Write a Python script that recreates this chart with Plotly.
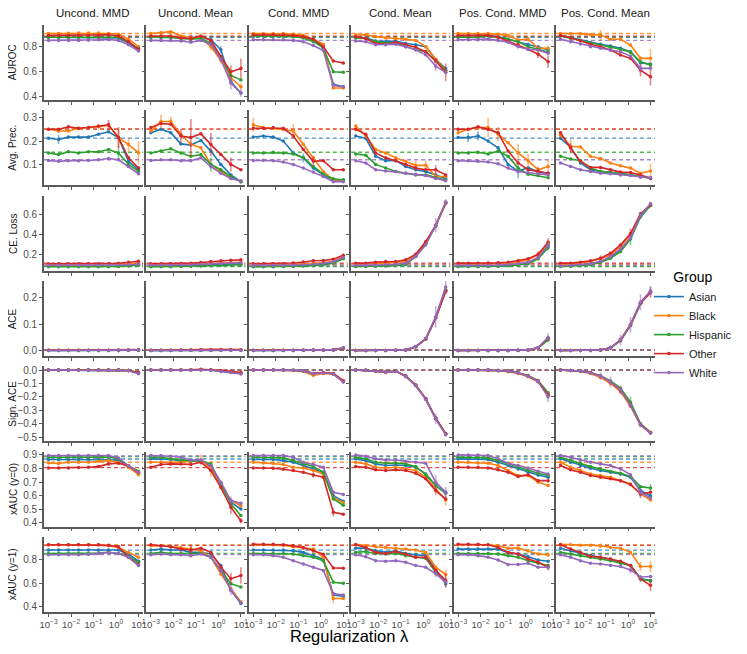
import plotly.graph_objects as go
from plotly.subplots import make_subplots

# regularization strengths (x axis)
lam = [0.001, 0.0028, 0.0077, 0.0215, 0.0599, 0.1668, 0.4642, 1.2915, 3.5938, 10.0]

groups = ["Asian", "Black", "Hispanic", "Other", "White"]
colors = ["#1f77b4", "#ff7f0e", "#2ca02c", "#d62728", "#9467bd"]
methods = ["Uncond. MMD", "Uncond. Mean", "Cond. MMD", "Cond. Mean", "Pos. Cond. MMD", "Pos. Cond. Mean"]
metrics = ["AUROC", "Avg. Prec.", "CE. Loss", "ACE", "Sign. ACE", "xAUC (y=0)", "xAUC (y=1)"]
x_ticks = [0.001, 0.01, 0.1, 1, 10]
x_tick_text = ["10<sup>−3</sup>", "10<sup>−2</sup>", "10<sup>−1</sup>", "10<sup>0</sup>", "10<sup>1</sup>"]

# unregularized baselines (dashed lines), order: Asian, Black, Hispanic, Other, White
base_auroc = [0.875, 0.905, 0.88, 0.885, 0.85]
base_ap = [0.213, 0.25, 0.152, 0.252, 0.12]
base_ce = [0.08, 0.095, 0.075, 0.11, 0.09]
base_ace = [0.002, 0.002, 0.002, 0.002, 0.002]
base_sace = [0.0, 0.0, 0.0, 0.0, 0.0]
base_x0 = [0.87, 0.846, 0.888, 0.806, 0.893]
base_x1 = [0.885, 0.93, 0.856, 0.925, 0.845]

# ---------------- AUROC ----------------
auroc_uncond_mmd = {
    "Asian": [0.875, 0.875, 0.875, 0.875, 0.875, 0.875, 0.875, 0.87, 0.83, 0.775],
    "Black": [0.905, 0.905, 0.908, 0.91, 0.91, 0.91, 0.905, 0.9, 0.86, 0.8],
    "Hispanic": [0.875, 0.875, 0.875, 0.875, 0.875, 0.875, 0.88, 0.875, 0.835, 0.785],
    "Other": [0.89, 0.89, 0.89, 0.89, 0.89, 0.89, 0.895, 0.885, 0.84, 0.78],
    "White": [0.85, 0.85, 0.85, 0.85, 0.852, 0.855, 0.858, 0.85, 0.815, 0.765],
}
auroc_uncond_mean = {
    "Asian": [0.875, 0.875, 0.875, 0.875, 0.87, 0.88, 0.855, 0.775, 0.52, 0.43],
    "Black": [0.905, 0.912, 0.92, 0.885, 0.87, 0.87, 0.8, 0.69, 0.55, 0.48],
    "Hispanic": [0.875, 0.875, 0.875, 0.865, 0.86, 0.865, 0.83, 0.72, 0.57, 0.535],
    "Other": [0.885, 0.885, 0.885, 0.87, 0.865, 0.885, 0.85, 0.72, 0.6, 0.625],
    "White": [0.85, 0.85, 0.85, 0.845, 0.835, 0.85, 0.82, 0.7, 0.51, 0.43],
}
auroc_cond_mmd = {
    "Asian": [0.885, 0.885, 0.885, 0.885, 0.885, 0.875, 0.855, 0.79, 0.5, 0.48],
    "Black": [0.905, 0.905, 0.905, 0.905, 0.9, 0.89, 0.86, 0.82, 0.47, 0.47],
    "Hispanic": [0.885, 0.885, 0.885, 0.885, 0.88, 0.87, 0.84, 0.79, 0.6, 0.595],
    "Other": [0.895, 0.895, 0.895, 0.895, 0.89, 0.88, 0.86, 0.8, 0.685, 0.67],
    "White": [0.855, 0.855, 0.855, 0.855, 0.85, 0.84, 0.81, 0.77, 0.49, 0.48],
}
auroc_cond_mean = {
    "Asian": [0.875, 0.87, 0.845, 0.84, 0.845, 0.825, 0.815, 0.8, 0.7, 0.625],
    "Black": [0.895, 0.895, 0.88, 0.87, 0.865, 0.86, 0.85, 0.8, 0.7, 0.61],
    "Hispanic": [0.87, 0.865, 0.84, 0.83, 0.83, 0.8, 0.775, 0.76, 0.685, 0.61],
    "Other": [0.88, 0.865, 0.825, 0.82, 0.835, 0.815, 0.795, 0.76, 0.685, 0.595],
    "White": [0.845, 0.84, 0.815, 0.815, 0.82, 0.8, 0.775, 0.735, 0.645, 0.595],
}
auroc_pos_cond_mmd = {
    "Asian": [0.885, 0.885, 0.885, 0.89, 0.88, 0.86, 0.84, 0.82, 0.8, 0.775],
    "Black": [0.905, 0.905, 0.905, 0.905, 0.9, 0.89, 0.853, 0.86, 0.787, 0.787],
    "Hispanic": [0.875, 0.875, 0.875, 0.885, 0.875, 0.86, 0.84, 0.8, 0.78, 0.757],
    "Other": [0.89, 0.89, 0.89, 0.89, 0.875, 0.845, 0.815, 0.78, 0.74, 0.68],
    "White": [0.855, 0.855, 0.855, 0.86, 0.85, 0.835, 0.8, 0.78, 0.773, 0.747],
}
auroc_pos_cond_mean = {
    "Asian": [0.89, 0.872, 0.851, 0.832, 0.819, 0.805, 0.787, 0.76, 0.672, 0.661],
    "Black": [0.905, 0.904, 0.904, 0.896, 0.893, 0.859, 0.859, 0.813, 0.707, 0.707],
    "Hispanic": [0.885, 0.867, 0.848, 0.827, 0.808, 0.795, 0.779, 0.755, 0.68, 0.653],
    "Other": [0.89, 0.872, 0.848, 0.819, 0.8, 0.773, 0.733, 0.707, 0.613, 0.56],
    "White": [0.859, 0.84, 0.821, 0.8, 0.787, 0.773, 0.76, 0.725, 0.627, 0.627],
}

# ---------------- Average precision ----------------
ap_uncond_mmd = {
    "Asian": [0.212, 0.207, 0.217, 0.217, 0.217, 0.229, 0.24, 0.215, 0.113, 0.077],
    "Black": [0.251, 0.243, 0.243, 0.255, 0.258, 0.261, 0.268, 0.215, 0.185, 0.15],
    "Hispanic": [0.149, 0.142, 0.154, 0.149, 0.154, 0.154, 0.164, 0.149, 0.1, 0.07],
    "Other": [0.251, 0.251, 0.261, 0.255, 0.258, 0.265, 0.27, 0.215, 0.128, 0.084],
    "White": [0.117, 0.113, 0.116, 0.116, 0.117, 0.12, 0.125, 0.12, 0.091, 0.06],
}
ap_uncond_mean = {
    "Asian": [0.236, 0.251, 0.236, 0.188, 0.183, 0.203, 0.157, 0.1, 0.055, 0.026],
    "Black": [0.243, 0.284, 0.284, 0.229, 0.186, 0.171, 0.1, 0.07, 0.04, 0.029],
    "Hispanic": [0.149, 0.157, 0.167, 0.149, 0.135, 0.142, 0.1, 0.077, 0.048, 0.026],
    "Other": [0.258, 0.275, 0.272, 0.222, 0.215, 0.232, 0.185, 0.142, 0.1, 0.077],
    "White": [0.117, 0.12, 0.12, 0.116, 0.116, 0.128, 0.091, 0.062, 0.04, 0.029],
}
ap_cond_mmd = {
    "Asian": [0.217, 0.222, 0.217, 0.2, 0.149, 0.128, 0.084, 0.055, 0.033, 0.033],
    "Black": [0.27, 0.258, 0.255, 0.25, 0.243, 0.186, 0.128, 0.07, 0.033, 0.029],
    "Hispanic": [0.149, 0.149, 0.152, 0.149, 0.145, 0.13, 0.091, 0.058, 0.038, 0.033],
    "Other": [0.255, 0.255, 0.258, 0.255, 0.222, 0.164, 0.113, 0.116, 0.077, 0.077],
    "White": [0.117, 0.118, 0.116, 0.11, 0.1, 0.084, 0.067, 0.048, 0.026, 0.026],
}
ap_cond_mean = {
    "Asian": [0.222, 0.212, 0.135, 0.116, 0.116, 0.091, 0.077, 0.07, 0.055, 0.04],
    "Black": [0.265, 0.222, 0.164, 0.149, 0.128, 0.113, 0.096, 0.096, 0.048, 0.048],
    "Hispanic": [0.145, 0.139, 0.1, 0.084, 0.07, 0.062, 0.055, 0.055, 0.043, 0.033],
    "Other": [0.251, 0.229, 0.149, 0.128, 0.116, 0.1, 0.084, 0.077, 0.077, 0.055],
    "White": [0.116, 0.106, 0.077, 0.072, 0.07, 0.062, 0.058, 0.052, 0.04, 0.03],
}
ap_pos_cond_mmd = {
    "Asian": [0.215, 0.215, 0.222, 0.2, 0.171, 0.1, 0.071, 0.086, 0.068, 0.062],
    "Black": [0.236, 0.251, 0.258, 0.258, 0.23, 0.193, 0.149, 0.116, 0.077, 0.091],
    "Hispanic": [0.149, 0.149, 0.152, 0.145, 0.157, 0.135, 0.084, 0.058, 0.052, 0.043],
    "Other": [0.251, 0.251, 0.261, 0.251, 0.236, 0.157, 0.106, 0.077, 0.07, 0.062],
    "White": [0.116, 0.116, 0.113, 0.11, 0.103, 0.084, 0.07, 0.064, 0.06, 0.055],
}
ap_pos_cond_mean = {
    "Asian": [0.212, 0.174, 0.106, 0.077, 0.07, 0.066, 0.062, 0.055, 0.048, 0.043],
    "Black": [0.225, 0.178, 0.175, 0.135, 0.125, 0.106, 0.094, 0.084, 0.062, 0.072],
    "Hispanic": [0.135, 0.123, 0.116, 0.084, 0.07, 0.066, 0.06, 0.055, 0.048, 0.04],
    "Other": [0.236, 0.171, 0.113, 0.087, 0.087, 0.077, 0.067, 0.065, 0.055, 0.04],
    "White": [0.106, 0.091, 0.077, 0.07, 0.062, 0.06, 0.055, 0.052, 0.045, 0.043],
}

# ---------------- Cross-entropy loss ----------------
ce_uncond_mmd = {
    "Asian": [0.08, 0.08, 0.08, 0.08, 0.08, 0.08, 0.08, 0.082, 0.088, 0.095],
    "Black": [0.095, 0.095, 0.095, 0.095, 0.095, 0.095, 0.097, 0.1, 0.105, 0.11],
    "Hispanic": [0.075, 0.075, 0.075, 0.075, 0.075, 0.075, 0.075, 0.078, 0.083, 0.09],
    "Other": [0.105, 0.105, 0.105, 0.105, 0.105, 0.105, 0.106, 0.11, 0.12, 0.13],
    "White": [0.09, 0.09, 0.09, 0.09, 0.09, 0.09, 0.09, 0.092, 0.095, 0.1],
}
ce_uncond_mean = {
    "Asian": [0.08, 0.08, 0.08, 0.082, 0.085, 0.088, 0.092, 0.097, 0.1, 0.105],
    "Black": [0.095, 0.095, 0.095, 0.097, 0.1, 0.104, 0.108, 0.113, 0.117, 0.12],
    "Hispanic": [0.075, 0.075, 0.075, 0.077, 0.079, 0.082, 0.085, 0.089, 0.092, 0.095],
    "Other": [0.104, 0.104, 0.104, 0.107, 0.111, 0.117, 0.127, 0.134, 0.14, 0.144],
    "White": [0.09, 0.09, 0.09, 0.092, 0.095, 0.099, 0.103, 0.108, 0.112, 0.115],
}
ce_cond_mmd = {
    "Asian": [0.078, 0.078, 0.078, 0.079, 0.08, 0.085, 0.09, 0.097, 0.115, 0.16],
    "Black": [0.095, 0.095, 0.095, 0.096, 0.098, 0.103, 0.11, 0.115, 0.13, 0.175],
    "Hispanic": [0.075, 0.075, 0.075, 0.076, 0.078, 0.082, 0.087, 0.094, 0.11, 0.155],
    "Other": [0.105, 0.105, 0.105, 0.105, 0.112, 0.122, 0.135, 0.138, 0.151, 0.19],
    "White": [0.088, 0.088, 0.088, 0.089, 0.09, 0.095, 0.1, 0.108, 0.125, 0.168],
}
ce_cond_mean = {
    "Asian": [0.08, 0.08, 0.082, 0.085, 0.09, 0.1, 0.177, 0.309, 0.484, 0.716],
    "Black": [0.101, 0.101, 0.104, 0.11, 0.117, 0.127, 0.193, 0.32, 0.49, 0.706],
    "Hispanic": [0.078, 0.078, 0.08, 0.083, 0.088, 0.1, 0.177, 0.309, 0.484, 0.716],
    "Other": [0.111, 0.111, 0.121, 0.127, 0.127, 0.144, 0.2, 0.326, 0.49, 0.722],
    "White": [0.088, 0.088, 0.09, 0.095, 0.1, 0.111, 0.177, 0.293, 0.49, 0.722],
}
ce_pos_cond_mmd = {
    "Asian": [0.078, 0.078, 0.078, 0.079, 0.081, 0.086, 0.095, 0.11, 0.16, 0.286],
    "Black": [0.101, 0.101, 0.101, 0.102, 0.104, 0.11, 0.121, 0.144, 0.193, 0.3],
    "Hispanic": [0.078, 0.078, 0.078, 0.078, 0.08, 0.084, 0.092, 0.104, 0.154, 0.266],
    "Other": [0.111, 0.111, 0.111, 0.112, 0.114, 0.12, 0.134, 0.154, 0.2, 0.32],
    "White": [0.088, 0.088, 0.088, 0.089, 0.091, 0.096, 0.104, 0.121, 0.167, 0.29],
}
ce_pos_cond_mean = {
    "Asian": [0.084, 0.088, 0.094, 0.104, 0.127, 0.167, 0.243, 0.359, 0.58, 0.689],
    "Black": [0.094, 0.101, 0.111, 0.127, 0.154, 0.193, 0.276, 0.392, 0.59, 0.689],
    "Hispanic": [0.078, 0.078, 0.084, 0.094, 0.117, 0.16, 0.226, 0.352, 0.574, 0.689],
    "Other": [0.111, 0.111, 0.121, 0.134, 0.16, 0.21, 0.293, 0.408, 0.607, 0.696],
    "White": [0.084, 0.088, 0.094, 0.104, 0.127, 0.177, 0.25, 0.365, 0.59, 0.706],
}

# ---------------- ACE ----------------
ace_uncond_mmd = {
    "Asian": [0.001, 0.001, 0.001, 0.001, 0.001, 0.001, 0.001, 0.001, 0.002, 0.002],
    "Black": [0.002, 0.002, 0.002, 0.002, 0.002, 0.002, 0.002, 0.002, 0.002, 0.003],
    "Hispanic": [0.001, 0.001, 0.001, 0.001, 0.001, 0.001, 0.001, 0.001, 0.002, 0.002],
    "Other": [0.002, 0.002, 0.002, 0.002, 0.002, 0.002, 0.002, 0.003, 0.003, 0.004],
    "White": [0.001, 0.001, 0.001, 0.001, 0.001, 0.001, 0.001, 0.001, 0.002, 0.003],
}
ace_uncond_mean = {
    "Asian": [0.001, 0.001, 0.001, 0.002, 0.002, 0.002, 0.002, 0.002, 0.002, 0.002],
    "Black": [0.002, 0.002, 0.002, 0.002, 0.003, 0.003, 0.003, 0.003, 0.003, 0.003],
    "Hispanic": [0.001, 0.001, 0.001, 0.002, 0.002, 0.002, 0.002, 0.002, 0.002, 0.002],
    "Other": [0.002, 0.002, 0.002, 0.003, 0.003, 0.004, 0.005, 0.005, 0.004, 0.004],
    "White": [0.001, 0.001, 0.001, 0.002, 0.002, 0.002, 0.002, 0.002, 0.002, 0.002],
}
ace_cond_mmd = {
    "Asian": [0.001, 0.001, 0.001, 0.001, 0.001, 0.002, 0.002, 0.002, 0.003, 0.009],
    "Black": [0.002, 0.002, 0.002, 0.002, 0.002, 0.002, 0.002, 0.002, 0.003, 0.01],
    "Hispanic": [0.001, 0.001, 0.001, 0.001, 0.001, 0.002, 0.002, 0.002, 0.003, 0.009],
    "Other": [0.002, 0.002, 0.002, 0.002, 0.002, 0.002, 0.003, 0.003, 0.004, 0.01],
    "White": [0.001, 0.001, 0.001, 0.001, 0.001, 0.002, 0.002, 0.002, 0.003, 0.012],
}
ace_cond_mean = {
    "Asian": [0.001, 0.001, 0.001, 0.001, 0.002, 0.003, 0.015, 0.044, 0.125, 0.228],
    "Black": [0.001, 0.001, 0.001, 0.001, 0.002, 0.003, 0.015, 0.044, 0.125, 0.23],
    "Hispanic": [0.001, 0.001, 0.001, 0.001, 0.002, 0.003, 0.015, 0.044, 0.125, 0.228],
    "Other": [0.001, 0.001, 0.001, 0.001, 0.002, 0.003, 0.015, 0.044, 0.123, 0.223],
    "White": [0.001, 0.001, 0.001, 0.001, 0.002, 0.003, 0.016, 0.046, 0.128, 0.24],
}
ace_pos_cond_mmd = {
    "Asian": [0.001, 0.001, 0.001, 0.001, 0.001, 0.001, 0.001, 0.003, 0.011, 0.047],
    "Black": [0.001, 0.001, 0.001, 0.001, 0.001, 0.001, 0.002, 0.003, 0.011, 0.046],
    "Hispanic": [0.001, 0.001, 0.001, 0.001, 0.001, 0.001, 0.001, 0.003, 0.01, 0.04],
    "Other": [0.001, 0.001, 0.001, 0.001, 0.001, 0.001, 0.002, 0.003, 0.011, 0.047],
    "White": [0.001, 0.001, 0.001, 0.001, 0.001, 0.001, 0.002, 0.003, 0.012, 0.05],
}
ace_pos_cond_mean = {
    "Asian": [0.001, 0.001, 0.001, 0.001, 0.003, 0.011, 0.04, 0.097, 0.179, 0.223],
    "Black": [0.001, 0.001, 0.001, 0.001, 0.003, 0.011, 0.042, 0.1, 0.18, 0.222],
    "Hispanic": [0.001, 0.001, 0.001, 0.001, 0.003, 0.01, 0.038, 0.095, 0.178, 0.223],
    "Other": [0.001, 0.001, 0.001, 0.001, 0.003, 0.011, 0.04, 0.097, 0.179, 0.22],
    "White": [0.001, 0.001, 0.001, 0.001, 0.003, 0.011, 0.041, 0.098, 0.183, 0.225],
}

# ---------------- Signed ACE ----------------
sace_uncond_mmd = {
    "Asian": [0.0, 0.0, 0.0, 0.0, 0.0, 0.0, 0.0, 0.0, -0.004, -0.022],
    "Black": [0.0, 0.0, 0.0, 0.0, 0.0, 0.0, 0.0, 0.0, -0.003, -0.018],
    "Hispanic": [0.0, 0.0, 0.0, 0.0, 0.0, 0.0, 0.0, 0.0, -0.004, -0.02],
    "Other": [0.0, 0.0, 0.0, 0.0, 0.0, 0.0, 0.001, 0.001, -0.003, -0.02],
    "White": [0.0, 0.0, 0.0, 0.0, 0.0, 0.0, 0.0, 0.0, -0.005, -0.028],
}
sace_uncond_mean = {
    "Asian": [0.0, 0.0, 0.0, 0.0, 0.0, 0.002, 0.0, -0.008, -0.015, -0.025],
    "Black": [0.0, 0.0, 0.0, 0.0, 0.0, 0.003, 0.0, -0.006, -0.012, -0.02],
    "Hispanic": [0.0, 0.0, 0.0, 0.0, 0.0, 0.002, 0.0, -0.007, -0.014, -0.024],
    "Other": [0.0, 0.0, 0.0, 0.0, 0.002, 0.006, 0.002, -0.004, -0.01, -0.02],
    "White": [0.0, 0.0, -0.002, -0.002, 0.0, 0.001, -0.002, -0.01, -0.018, -0.03],
}
sace_cond_mmd = {
    "Asian": [0.0, 0.0, 0.0, 0.0, -0.002, -0.006, -0.025, -0.02, -0.028, -0.085],
    "Black": [0.0, 0.0, 0.0, -0.001, -0.003, -0.01, -0.04, -0.025, -0.03, -0.085],
    "Hispanic": [0.0, 0.0, 0.0, 0.0, -0.002, -0.006, -0.025, -0.02, -0.027, -0.082],
    "Other": [0.0, 0.0, 0.0, 0.0, -0.002, -0.005, -0.025, -0.018, -0.025, -0.08],
    "White": [0.0, 0.0, 0.0, 0.0, -0.002, -0.006, -0.027, -0.022, -0.03, -0.09],
}
sace_cond_mean = {
    "Asian": [0.0, -0.002, -0.008, -0.015, -0.008, -0.045, -0.114, -0.215, -0.36, -0.478],
    "Black": [0.0, -0.003, -0.01, -0.018, -0.01, -0.048, -0.118, -0.22, -0.362, -0.48],
    "Hispanic": [0.0, -0.002, -0.008, -0.015, -0.008, -0.045, -0.114, -0.215, -0.358, -0.476],
    "Other": [0.0, -0.002, -0.008, -0.015, -0.008, -0.045, -0.112, -0.212, -0.36, -0.475],
    "White": [0.0, -0.002, -0.009, -0.016, -0.009, -0.047, -0.116, -0.218, -0.365, -0.482],
}
sace_pos_cond_mmd = {
    "Asian": [0.0, 0.0, 0.0, 0.0, -0.003, -0.008, -0.02, -0.045, -0.083, -0.185],
    "Black": [0.0, 0.0, 0.0, -0.001, -0.005, -0.012, -0.025, -0.05, -0.088, -0.19],
    "Hispanic": [0.0, 0.0, 0.0, 0.0, -0.003, -0.008, -0.02, -0.043, -0.078, -0.17],
    "Other": [0.0, 0.0, 0.0, 0.0, -0.003, -0.008, -0.02, -0.045, -0.083, -0.185],
    "White": [0.0, 0.0, 0.0, 0.0, -0.003, -0.009, -0.021, -0.046, -0.086, -0.2],
}
sace_pos_cond_mean = {
    "Asian": [0.0, -0.003, -0.008, -0.02, -0.045, -0.088, -0.146, -0.26, -0.407, -0.467],
    "Black": [0.0, -0.004, -0.011, -0.026, -0.055, -0.1, -0.16, -0.27, -0.41, -0.47],
    "Hispanic": [0.0, -0.003, -0.008, -0.019, -0.042, -0.082, -0.135, -0.24, -0.4, -0.465],
    "Other": [0.0, -0.003, -0.008, -0.02, -0.045, -0.09, -0.15, -0.262, -0.408, -0.468],
    "White": [0.0, -0.003, -0.008, -0.02, -0.046, -0.088, -0.146, -0.262, -0.41, -0.47],
}

# ---------------- xAUC (y=0) ----------------
x0_uncond_mmd = {
    "Asian": [0.866, 0.866, 0.866, 0.866, 0.866, 0.866, 0.864, 0.86, 0.81, 0.765],
    "Black": [0.84, 0.837, 0.846, 0.846, 0.846, 0.853, 0.858, 0.846, 0.81, 0.755],
    "Hispanic": [0.883, 0.883, 0.883, 0.883, 0.883, 0.883, 0.885, 0.871, 0.82, 0.78],
    "Other": [0.804, 0.804, 0.804, 0.807, 0.809, 0.814, 0.834, 0.839, 0.82, 0.77],
    "White": [0.895, 0.895, 0.895, 0.895, 0.895, 0.895, 0.895, 0.878, 0.82, 0.773],
}
x0_uncond_mean = {
    "Asian": [0.871, 0.871, 0.866, 0.858, 0.853, 0.858, 0.81, 0.693, 0.552, 0.503],
    "Black": [0.846, 0.846, 0.846, 0.846, 0.853, 0.863, 0.797, 0.675, 0.565, 0.527],
    "Hispanic": [0.883, 0.883, 0.871, 0.863, 0.858, 0.858, 0.834, 0.687, 0.54, 0.455],
    "Other": [0.81, 0.83, 0.834, 0.834, 0.83, 0.846, 0.785, 0.66, 0.515, 0.417],
    "White": [0.895, 0.895, 0.89, 0.883, 0.863, 0.863, 0.82, 0.7, 0.565, 0.545],
}
x0_cond_mmd = {
    "Asian": [0.866, 0.866, 0.866, 0.858, 0.846, 0.822, 0.797, 0.773, 0.6, 0.56],
    "Black": [0.846, 0.841, 0.839, 0.829, 0.809, 0.804, 0.785, 0.76, 0.584, 0.55],
    "Hispanic": [0.883, 0.883, 0.883, 0.878, 0.858, 0.834, 0.814, 0.773, 0.576, 0.53],
    "Other": [0.804, 0.804, 0.802, 0.795, 0.785, 0.773, 0.753, 0.736, 0.478, 0.465],
    "White": [0.895, 0.895, 0.895, 0.895, 0.883, 0.846, 0.829, 0.81, 0.625, 0.61],
}
x0_cond_mean = {
    "Asian": [0.871, 0.858, 0.834, 0.822, 0.826, 0.822, 0.81, 0.76, 0.675, 0.618],
    "Black": [0.846, 0.834, 0.809, 0.804, 0.809, 0.797, 0.785, 0.736, 0.65, 0.569],
    "Hispanic": [0.883, 0.871, 0.846, 0.839, 0.841, 0.834, 0.814, 0.755, 0.675, 0.625],
    "Other": [0.814, 0.809, 0.79, 0.785, 0.79, 0.785, 0.765, 0.724, 0.638, 0.576],
    "White": [0.9, 0.89, 0.871, 0.863, 0.863, 0.853, 0.846, 0.839, 0.7, 0.625],
}
x0_pos_cond_mmd = {
    "Asian": [0.871, 0.871, 0.871, 0.866, 0.846, 0.822, 0.797, 0.773, 0.753, 0.736],
    "Black": [0.846, 0.846, 0.841, 0.839, 0.822, 0.785, 0.748, 0.748, 0.7, 0.675],
    "Hispanic": [0.883, 0.883, 0.883, 0.878, 0.858, 0.834, 0.809, 0.785, 0.765, 0.748],
    "Other": [0.809, 0.809, 0.809, 0.804, 0.79, 0.773, 0.741, 0.755, 0.711, 0.711],
    "White": [0.9, 0.9, 0.9, 0.895, 0.871, 0.839, 0.822, 0.804, 0.78, 0.76],
}
x0_pos_cond_mean = {
    "Asian": [0.871, 0.846, 0.822, 0.802, 0.785, 0.773, 0.76, 0.736, 0.638, 0.6],
    "Black": [0.846, 0.809, 0.785, 0.76, 0.748, 0.736, 0.711, 0.687, 0.613, 0.569],
    "Hispanic": [0.883, 0.858, 0.839, 0.814, 0.797, 0.78, 0.765, 0.741, 0.667, 0.657],
    "Other": [0.822, 0.79, 0.773, 0.748, 0.736, 0.724, 0.711, 0.682, 0.613, 0.625],
    "White": [0.895, 0.883, 0.863, 0.846, 0.834, 0.822, 0.797, 0.755, 0.625, 0.584],
}

# ---------------- xAUC (y=1) ----------------
x1_uncond_mmd = {
    "Asian": [0.885, 0.885, 0.885, 0.885, 0.885, 0.885, 0.885, 0.885, 0.851, 0.789],
    "Black": [0.93, 0.93, 0.93, 0.93, 0.93, 0.93, 0.921, 0.907, 0.865, 0.823],
    "Hispanic": [0.856, 0.856, 0.856, 0.856, 0.856, 0.86, 0.865, 0.856, 0.828, 0.78],
    "Other": [0.93, 0.93, 0.93, 0.93, 0.93, 0.93, 0.925, 0.913, 0.823, 0.76],
    "White": [0.845, 0.845, 0.845, 0.845, 0.848, 0.855, 0.865, 0.856, 0.823, 0.752],
}
x1_uncond_mean = {
    "Asian": [0.885, 0.893, 0.885, 0.885, 0.865, 0.865, 0.851, 0.752, 0.541, 0.428],
    "Black": [0.921, 0.921, 0.913, 0.907, 0.893, 0.879, 0.823, 0.68, 0.555, 0.442],
    "Hispanic": [0.856, 0.865, 0.856, 0.856, 0.851, 0.856, 0.823, 0.71, 0.597, 0.569],
    "Other": [0.93, 0.921, 0.913, 0.893, 0.885, 0.901, 0.865, 0.738, 0.64, 0.667],
    "White": [0.845, 0.851, 0.845, 0.845, 0.837, 0.851, 0.823, 0.71, 0.541, 0.434],
}
x1_cond_mmd = {
    "Asian": [0.885, 0.885, 0.885, 0.885, 0.879, 0.865, 0.837, 0.808, 0.5, 0.49],
    "Black": [0.93, 0.93, 0.93, 0.925, 0.913, 0.901, 0.893, 0.823, 0.47, 0.47],
    "Hispanic": [0.856, 0.856, 0.856, 0.856, 0.851, 0.837, 0.823, 0.794, 0.61, 0.6],
    "Other": [0.935, 0.935, 0.935, 0.93, 0.921, 0.907, 0.879, 0.85, 0.732, 0.73],
    "White": [0.845, 0.845, 0.837, 0.823, 0.794, 0.766, 0.738, 0.71, 0.513, 0.5],
}
x1_cond_mean = {
    "Asian": [0.901, 0.901, 0.879, 0.865, 0.879, 0.856, 0.845, 0.837, 0.724, 0.597],
    "Black": [0.935, 0.921, 0.913, 0.907, 0.901, 0.893, 0.885, 0.865, 0.738, 0.676],
    "Hispanic": [0.865, 0.873, 0.856, 0.851, 0.856, 0.837, 0.823, 0.814, 0.696, 0.611],
    "Other": [0.93, 0.907, 0.865, 0.856, 0.873, 0.851, 0.823, 0.823, 0.71, 0.625],
    "White": [0.845, 0.828, 0.794, 0.789, 0.794, 0.78, 0.752, 0.738, 0.682, 0.611],
}
x1_pos_cond_mmd = {
    "Asian": [0.893, 0.893, 0.893, 0.893, 0.893, 0.865, 0.851, 0.828, 0.8, 0.789],
    "Black": [0.93, 0.93, 0.93, 0.93, 0.921, 0.901, 0.901, 0.879, 0.851, 0.845],
    "Hispanic": [0.856, 0.856, 0.856, 0.856, 0.851, 0.837, 0.823, 0.794, 0.772, 0.752],
    "Other": [0.935, 0.935, 0.935, 0.93, 0.907, 0.865, 0.851, 0.808, 0.78, 0.738],
    "White": [0.845, 0.845, 0.837, 0.823, 0.8, 0.761, 0.761, 0.772, 0.738, 0.738],
}
x1_pos_cond_mean = {
    "Asian": [0.901, 0.879, 0.856, 0.837, 0.823, 0.808, 0.78, 0.752, 0.639, 0.625],
    "Black": [0.935, 0.93, 0.927, 0.927, 0.921, 0.907, 0.901, 0.865, 0.744, 0.744],
    "Hispanic": [0.865, 0.851, 0.837, 0.823, 0.808, 0.794, 0.772, 0.752, 0.639, 0.62],
    "Other": [0.93, 0.893, 0.865, 0.831, 0.823, 0.808, 0.789, 0.752, 0.639, 0.583],
    "White": [0.845, 0.823, 0.794, 0.772, 0.766, 0.752, 0.744, 0.715, 0.654, 0.659],
}

# standard errors that are visible in the picture (others are drawn with none)
err_auroc_uncond_mean = {"Other": [0, 0, 0, 0, 0.03, 0, 0, 0, 0.05, 0.08], "White": [0, 0, 0, 0, 0, 0, 0, 0, 0.05, 0.03],
                         "Asian": [0, 0, 0, 0, 0, 0, 0.03, 0.03, 0, 0], "Black": [0, 0, 0, 0, 0, 0, 0.03, 0.03, 0, 0.03]}
err_auroc_cond_mean = {"Other": [0, 0, 0, 0, 0, 0, 0, 0, 0, 0.07], "White": [0, 0, 0, 0, 0, 0, 0, 0, 0.04, 0]}
err_auroc_pos_cond_mmd = {"Other": [0, 0, 0, 0, 0, 0, 0, 0, 0.03, 0.05], "Black": [0, 0, 0, 0, 0, 0, 0.02, 0.02, 0, 0.02]}
err_auroc_pos_cond_mean = {"Black": [0, 0, 0, 0, 0.04, 0, 0, 0, 0, 0.075], "Other": [0, 0, 0, 0, 0, 0, 0, 0, 0.05, 0.07],
                           "White": [0, 0, 0, 0, 0, 0, 0, 0, 0.04, 0]}
err_ap_uncond_mmd = {"Asian": [0, 0.02, 0, 0, 0, 0, 0, 0, 0, 0], "Other": [0, 0, 0, 0, 0, 0, 0.02, 0.045, 0, 0],
                     "Black": [0, 0, 0, 0, 0, 0, 0, 0.04, 0.03, 0.05], "Hispanic": [0, 0, 0, 0, 0, 0, 0, 0.03, 0, 0]}
err_ap_uncond_mean = {"Other": [0, 0, 0, 0.03, 0.08, 0, 0.05, 0, 0.03, 0], "Black": [0, 0.03, 0.02, 0, 0, 0, 0, 0, 0, 0],
                      "Hispanic": [0, 0, 0, 0, 0, 0, 0.03, 0, 0, 0]}
err_ap_cond_mmd = {"Black": [0.03, 0, 0, 0, 0.03, 0, 0, 0, 0, 0], "Other": [0, 0, 0, 0, 0, 0, 0.02, 0, 0, 0],
                   "Asian": [0, 0, 0, 0, 0, 0.02, 0, 0, 0, 0]}
err_ap_cond_mean = {"Black": [0, 0, 0, 0, 0, 0, 0.02, 0.02, 0, 0], "Other": [0, 0, 0, 0, 0, 0, 0, 0, 0.02, 0]}
err_ap_pos_cond_mmd = {"Black": [0, 0, 0, 0.04, 0.03, 0, 0.04, 0.03, 0, 0.03], "Asian": [0, 0.02, 0.02, 0, 0, 0, 0.03, 0, 0, 0],
                       "Other": [0, 0, 0, 0, 0, 0, 0, 0, 0.02, 0]}
err_ap_pos_cond_mean = {"Black": [0, 0.03, 0, 0, 0, 0, 0, 0, 0, 0.03], "Other": [0, 0.02, 0, 0, 0, 0, 0, 0, 0, 0]}
err_ce_cond_mean = {"White": [0, 0, 0, 0, 0, 0, 0, 0, 0.07, 0.03], "Other": [0, 0, 0, 0, 0, 0, 0, 0.02, 0, 0]}
err_ce_pos_cond_mmd = {"Other": [0, 0, 0, 0, 0, 0, 0, 0, 0.03, 0.04], "Hispanic": [0, 0, 0, 0, 0, 0, 0, 0, 0, 0.03],
                       "White": [0, 0, 0, 0, 0, 0, 0, 0, 0, 0.03]}
err_ce_pos_cond_mean = {"Other": [0, 0, 0, 0, 0.03, 0, 0, 0.05, 0, 0], "Hispanic": [0, 0, 0, 0, 0, 0, 0, 0.06, 0, 0],
                        "White": [0, 0, 0, 0, 0, 0, 0, 0, 0.03, 0.02]}
err_ace_cond_mean = {"White": [0, 0, 0, 0, 0, 0, 0, 0, 0.04, 0.03]}
err_ace_pos_cond_mmd = {"White": [0, 0, 0, 0, 0, 0, 0, 0, 0, 0.015]}
err_ace_pos_cond_mean = {"White": [0, 0, 0, 0, 0, 0.01, 0.02, 0.03, 0.03, 0.02], "Other": [0, 0, 0, 0, 0, 0, 0, 0, 0, 0.02]}
err_sace_cond_mean = {"White": [0, 0, 0, 0, 0, 0, 0, 0, 0.04, 0]}
err_sace_pos_cond_mmd = {"White": [0, 0, 0, 0, 0, 0, 0, 0, 0.02, 0.04]}
err_sace_pos_cond_mean = {"White": [0, 0, 0, 0, 0.03, 0.04, 0.03, 0, 0, 0], "Hispanic": [0, 0, 0, 0, 0, 0, 0, 0.04, 0, 0],
                          "Other": [0, 0, 0, 0, 0, 0, 0.03, 0, 0, 0]}
err_x0_uncond_mean = {"Black": [0, 0, 0, 0, 0, 0.04, 0.06, 0, 0, 0], "Other": [0, 0, 0, 0, 0, 0, 0, 0, 0.05, 0.02],
                      "White": [0, 0, 0, 0, 0, 0, 0, 0, 0.03, 0]}
err_x0_cond_mmd = {"Other": [0, 0, 0, 0, 0, 0, 0.02, 0, 0.03, 0], "Black": [0, 0, 0, 0, 0, 0, 0, 0.02, 0, 0]}
err_x0_cond_mean = {"White": [0, 0, 0, 0, 0, 0, 0, 0, 0.05, 0.04], "Black": [0, 0, 0, 0, 0, 0, 0, 0, 0, 0.04],
                    "Other": [0, 0, 0, 0, 0, 0, 0, 0, 0.03, 0]}
err_x0_pos_cond_mean = {"Hispanic": [0, 0, 0, 0, 0, 0, 0, 0, 0, 0.03], "Other": [0, 0, 0, 0, 0, 0, 0, 0, 0.03, 0],
                        "White": [0, 0, 0, 0, 0, 0, 0, 0, 0.03, 0]}
err_x1_uncond_mean = {"Other": [0, 0, 0, 0, 0.04, 0, 0, 0, 0.05, 0.07], "Black": [0, 0, 0, 0, 0.03, 0, 0, 0, 0, 0],
                      "White": [0, 0, 0, 0, 0, 0, 0, 0, 0.04, 0]}
err_x1_cond_mmd = {"Black": [0, 0, 0, 0, 0, 0, 0, 0, 0.04, 0], "Other": [0, 0, 0, 0, 0, 0, 0.02, 0, 0, 0]}
err_x1_cond_mean = {"Other": [0, 0, 0, 0, 0, 0, 0, 0, 0, 0.06], "Black": [0, 0, 0, 0, 0, 0, 0, 0, 0, 0.04],
                    "Asian": [0, 0, 0, 0, 0, 0, 0, 0, 0, 0.03], "White": [0, 0, 0, 0, 0, 0, 0, 0, 0.03, 0]}
err_x1_pos_cond_mmd = {"Black": [0, 0, 0, 0, 0, 0, 0.02, 0, 0, 0.02], "Other": [0, 0, 0, 0, 0, 0, 0, 0, 0, 0.03]}
err_x1_pos_cond_mean = {"Black": [0, 0, 0, 0, 0.02, 0, 0, 0, 0.04, 0.05], "Other": [0, 0, 0, 0, 0, 0, 0, 0, 0, 0.05],
                        "Asian": [0, 0, 0, 0, 0, 0, 0, 0, 0.03, 0], "White": [0, 0, 0, 0, 0, 0, 0, 0.03, 0, 0]}

panel_values = [
    [auroc_uncond_mmd, auroc_uncond_mean, auroc_cond_mmd, auroc_cond_mean, auroc_pos_cond_mmd, auroc_pos_cond_mean],
    [ap_uncond_mmd, ap_uncond_mean, ap_cond_mmd, ap_cond_mean, ap_pos_cond_mmd, ap_pos_cond_mean],
    [ce_uncond_mmd, ce_uncond_mean, ce_cond_mmd, ce_cond_mean, ce_pos_cond_mmd, ce_pos_cond_mean],
    [ace_uncond_mmd, ace_uncond_mean, ace_cond_mmd, ace_cond_mean, ace_pos_cond_mmd, ace_pos_cond_mean],
    [sace_uncond_mmd, sace_uncond_mean, sace_cond_mmd, sace_cond_mean, sace_pos_cond_mmd, sace_pos_cond_mean],
    [x0_uncond_mmd, x0_uncond_mean, x0_cond_mmd, x0_cond_mean, x0_pos_cond_mmd, x0_pos_cond_mean],
    [x1_uncond_mmd, x1_uncond_mean, x1_cond_mmd, x1_cond_mean, x1_pos_cond_mmd, x1_pos_cond_mean],
]
panel_errors = [
    [{}, err_auroc_uncond_mean, {}, err_auroc_cond_mean, err_auroc_pos_cond_mmd, err_auroc_pos_cond_mean],
    [err_ap_uncond_mmd, err_ap_uncond_mean, err_ap_cond_mmd, err_ap_cond_mean, err_ap_pos_cond_mmd, err_ap_pos_cond_mean],
    [{}, {}, {}, err_ce_cond_mean, err_ce_pos_cond_mmd, err_ce_pos_cond_mean],
    [{}, {}, {}, err_ace_cond_mean, err_ace_pos_cond_mmd, err_ace_pos_cond_mean],
    [{}, {}, {}, err_sace_cond_mean, err_sace_pos_cond_mmd, err_sace_pos_cond_mean],
    [{}, err_x0_uncond_mean, err_x0_cond_mmd, err_x0_cond_mean, {}, err_x0_pos_cond_mean],
    [{}, err_x1_uncond_mean, err_x1_cond_mmd, err_x1_cond_mean, err_x1_pos_cond_mmd, err_x1_pos_cond_mean],
]
baselines = [base_auroc, base_ap, base_ce, base_ace, base_sace, base_x0, base_x1]

# axis settings per metric row
y_ranges = [[0.374, 0.973], [0.01, 0.332], [0.035, 0.788], [-0.02, 0.263],
            [-0.532, 0.028], [0.373, 0.924], [0.355, 0.997]]
y_ticks = [[0.4, 0.6, 0.8], [0.1, 0.2, 0.3], [0.2, 0.4, 0.6], [0.0, 0.1, 0.2],
           [0.0, -0.1, -0.2, -0.3, -0.4, -0.5], [0.4, 0.5, 0.6, 0.7, 0.8, 0.9], [0.4, 0.6, 0.8]]


def rgba(hex_color, alpha):
    h = hex_color.lstrip("#")
    return "rgba(%d,%d,%d,%.2f)" % (int(h[0:2], 16), int(h[2:4], 16), int(h[4:6], 16), alpha)


FONT = "Liberation Sans, Arial, Helvetica, sans-serif"
AXIS_COLOR = "#5a5a5a"

fig = make_subplots(rows=7, cols=6, horizontal_spacing=0.0056, vertical_spacing=0.0175)

for r in range(7):
    for c in range(6):
        vals = panel_values[r][c]
        errs = panel_errors[r][c]
        for g, grp in enumerate(groups):
            e = errs.get(grp)
            fig.add_trace(go.Scatter(
                x=lam, y=vals[grp],
                mode="lines+markers",
                name=grp,
                legendgroup=grp,
                showlegend=(r == 0 and c == 0),
                line=dict(color=colors[g], width=1.6),
                marker=dict(color=colors[g], size=3.5),
                error_y=dict(type="data", array=e, visible=e is not None,
                             color=rgba(colors[g], 0.55), thickness=1.6, width=0),
            ), row=r + 1, col=c + 1)
            # unregularized reference level
            fig.add_hline(y=baselines[r][g], row=r + 1, col=c + 1,
                          line=dict(color=rgba(colors[g], 0.8), width=1.3, dash="4px,3px"),
                          layer="below")

fig.update_xaxes(
    type="log", range=[-3.2, 1.2], tickvals=x_ticks, ticktext=x_tick_text,
    showgrid=False, zeroline=False, showline=True, linecolor=AXIS_COLOR, linewidth=1.6,
    ticks="outside", ticklen=3, tickwidth=1, tickcolor=AXIS_COLOR,
    tickfont=dict(size=9.5, color="#4d4d4d", family=FONT), showticklabels=False,
)
fig.update_xaxes(showticklabels=True, row=7)

for r in range(7):
    fig.update_yaxes(
        range=y_ranges[r], tickvals=y_ticks[r], tickformat=".1f",
        showgrid=False, zeroline=False, showline=True, linecolor=AXIS_COLOR, linewidth=1.6,
        ticks="outside", ticklen=3, tickwidth=1, tickcolor=AXIS_COLOR,
        tickfont=dict(size=10, color="#4d4d4d", family=FONT),
        showticklabels=False, row=r + 1,
    )
    fig.update_yaxes(showticklabels=True, row=r + 1, col=1)

# facet strip labels
annotations = []
for c, m in enumerate(methods):
    dom = fig.layout["xaxis%s" % ("" if c == 0 else c + 1)].domain
    annotations.append(dict(text=m, x=(dom[0] + dom[1]) / 2, y=1, xref="paper", yref="paper",
                            xanchor="center", yanchor="bottom", yshift=4, showarrow=False,
                            font=dict(size=11.5, color="#1a1a1a", family=FONT)))
for r, m in enumerate(metrics):
    dom = fig.layout["yaxis%s" % ("" if r == 0 else r * 6 + 1)].domain
    annotations.append(dict(text=m, x=-0.051, y=(dom[0] + dom[1]) / 2, xref="paper", yref="paper",
                            xanchor="center", yanchor="middle", textangle=-90, showarrow=False,
                            font=dict(size=10, color="#1a1a1a", family=FONT)))
annotations.append(dict(text="Regularization λ", x=0.5, y=-0.041, xref="paper", yref="paper",
                        xanchor="center", yanchor="middle", showarrow=False,
                        font=dict(size=16.5, color="#000000", family=FONT)))

# the page body adds an 8px offset, so margins are trimmed on the left/top
fig.update_layout(
    width=747, height=654,
    margin=dict(l=36, r=100, t=17, b=50, autoexpand=False),
    paper_bgcolor="white", plot_bgcolor="white",
    font=dict(family=FONT),
    annotations=annotations,
    legend=dict(
        title=dict(text="Group", side="top center", font=dict(size=14, color="#000000", family=FONT)),
        font=dict(size=11, color="#1a1a1a", family=FONT),
        x=0.99, y=0.593, xanchor="left", yanchor="top",
        itemwidth=30, tracegroupgap=0, bgcolor="rgba(0,0,0,0)",
    ),
)

fig.write_html("out.html")
